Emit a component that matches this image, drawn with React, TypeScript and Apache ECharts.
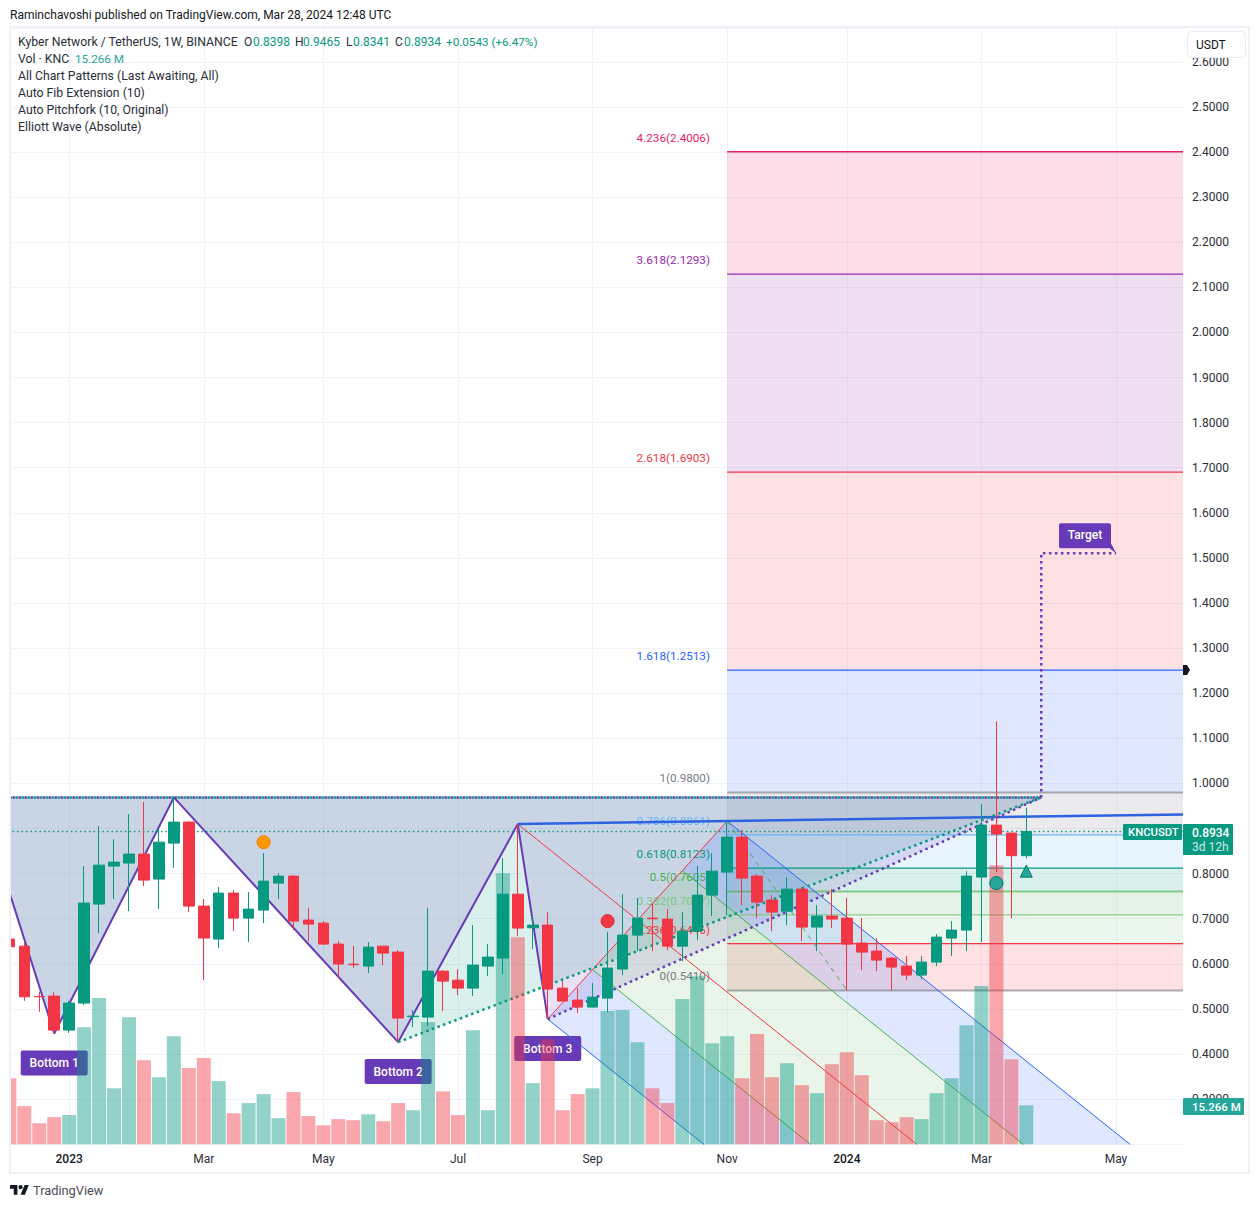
import React, { useEffect, useRef } from 'react';
import * as echarts from 'echarts';

const FONT = 'Roboto, sans-serif';
const GREEN = '#089981';
const RED = '#F23645';
const PURPLE = '#673ab7';

// weekly candles, oldest first: [open, close, low, high]
const candles = [
  [0.6548, 0.6378, 0.6378, 0.6548], [0.6392, 0.5269, 0.518, 0.647], [0.5276, 0.5269, 0.4936, 0.538],
  [0.5284, 0.453, 0.4441, 0.5372], [0.453, 0.5129, 0.447, 0.518], [0.5129, 0.7346, 0.5084, 0.8166],
  [0.7324, 0.8188, 0.6681, 0.9053], [0.8166, 0.8255, 0.7435, 0.8765], [0.8233, 0.8432, 0.7168, 0.9319],
  [0.8432, 0.7856, 0.7723, 0.9585], [0.7878, 0.8698, 0.7213, 0.8987], [0.8676, 0.9142, 0.8122, 0.9689],
  [0.9142, 0.7279, 0.7146, 0.9164], [0.7279, 0.657, 0.5639, 0.7435], [0.6548, 0.7568, 0.6348, 0.7701],
  [0.7568, 0.7013, 0.6725, 0.7634], [0.7013, 0.7213, 0.6481, 0.759], [0.7191, 0.7834, 0.6902, 0.8455],
  [0.7789, 0.7945, 0.7435, 0.8011], [0.7945, 0.6947, 0.6747, 0.7967], [0.6969, 0.688, 0.6503, 0.7235],
  [0.6902, 0.6437, 0.6415, 0.6947], [0.6437, 0.5993, 0.5683, 0.6503], [0.5993, 0.5979, 0.5905, 0.6392],
  [0.5949, 0.637, 0.5794, 0.6481], [0.6392, 0.6237, 0.5971, 0.6392], [0.6259, 0.4796, 0.4264, 0.6304],
  [0.4826, 0.484, 0.4596, 0.4973], [0.4818, 0.5838, 0.4619, 0.7235], [0.5838, 0.5616, 0.4951, 0.586],
  [0.5638, 0.5461, 0.5306, 0.5882], [0.5461, 0.5971, 0.5284, 0.6858], [0.5949, 0.6149, 0.5727, 0.6437],
  [0.6127, 0.7545, 0.5772, 0.8344], [0.7545, 0.6792, 0.6614, 0.9098], [0.6799, 0.6858, 0.6326, 0.708],
  [0.6858, 0.5439, 0.4774, 0.7146], [0.5461, 0.5173, 0.5173, 0.5616], [0.5195, 0.504, 0.4907, 0.5461],
  [0.504, 0.5262, 0.504, 0.5572], [0.5239, 0.5905, 0.4929, 0.6703], [0.5883, 0.6636, 0.5749, 0.7545],
  [0.6636, 0.7013, 0.6282, 0.7457], [0.7013, 0.6999, 0.6282, 0.7346], [0.6991, 0.6392, 0.6304, 0.7213],
  [0.6392, 0.6725, 0.606, 0.7146], [0.6725, 0.7523, 0.6526, 0.8166], [0.7523, 0.8055, 0.7058, 0.8455],
  [0.8033, 0.8809, 0.708, 0.9164], [0.8809, 0.79, 0.7301, 0.8964], [0.7945, 0.7368, 0.7013, 0.7989],
  [0.7412, 0.7146, 0.6725, 0.7523], [0.7168, 0.7656, 0.6858, 0.7922], [0.7656, 0.6814, 0.6503, 0.7701],
  [0.6814, 0.7058, 0.6282, 0.7301], [0.7058, 0.6991, 0.6792, 0.7656], [0.7013, 0.6437, 0.5417, 0.7457],
  [0.6459, 0.6259, 0.586, 0.7013], [0.6282, 0.6082, 0.5838, 0.657], [0.6126, 0.5927, 0.5417, 0.6149],
  [0.5949, 0.575, 0.5639, 0.6171], [0.575, 0.6038, 0.5661, 0.6171], [0.6038, 0.6592, 0.5949, 0.6659],
  [0.657, 0.6747, 0.6171, 0.6947], [0.6747, 0.7945, 0.6282, 0.8055], [0.7923, 0.9075, 0.6481, 0.9541],
  [0.9075, 0.8876, 0.8033, 1.1381], [0.8898, 0.8398, 0.7013, 0.8898], [0.8398, 0.8934, 0.8341, 0.9465],
];

// volume in millions, same order as the candles
const volumes = [
  25.8, 14.9, 8.2, 10.6, 11.4, 45.8, 57.2, 21.9, 49.7, 32.9, 26.2, 42.3, 29.8, 33.7, 24.7, 12.1, 16.1,
  19.6, 10.2, 20.4, 11.0, 7.4, 9.8, 9.4, 11.7, 9.0, 16.1, 13.3, 47.8, 20.7, 11.4, 44.6, 13.3, 106.1,
  81.0, 23.9, 41.1, 13.3, 19.6, 21.9, 52.1, 52.5, 39.9, 21.9, 16.1, 56.8, 65.8, 39.5, 42.3, 25.8, 43.1,
  26.2, 31.7, 23.1, 20.0, 31.3, 36.0, 27.0, 9.4, 8.6, 10.6, 9.8, 20.0, 25.8, 46.6, 61.9, 109.2, 33.3, 15.266,
];

const timeTicks = [4, 13, 21, 30, 39, 48, 56, 65, 74];
const timeLabels = ['2023', 'Mar', 'May', 'Jul', 'Sep', 'Nov', '2024', 'Mar', 'May'];

const X_MIN = 0.0435;
const X_MAX = 78.48;

// auto fib extension
const fibLevels = ['0', '0.236', '0.382', '0.5', '0.618', '0.786', '1', '1.618', '2.618', '3.618', '4.236'];
const fibPrices = [0.541, 0.6446, 0.7087, 0.7605, 0.8123, 0.8861, 0.98, 1.2513, 1.6903, 2.1293, 2.4006];
const fibColors = ['#787b86', '#f23645', '#81c784', '#4caf50', '#089981', '#64b5f6', '#787b86', '#2962ff', '#f23645', '#9c27b0', '#e91e63'];
const fibFillRgb = ['242,54,69', '129,199,132', '76,175,80', '8,153,129', '100,181,246', '120,123,134', '41,98,255', '242,54,69', '156,39,176', '233,30,99'];
const fibWidths = [2, 1.3, 1.3, 2, 1.3, 1.3, 2, 1.3, 1.3, 1.3, 1.3];
const fibOpacity = [0.6, 1, 0.9, 0.6, 1, 1, 0.6, 1, 1, 1, 1];
const FIB_START = 48;

// chart pattern pivots [week, price]
const zigzag = [[-1, 0.8636], [3, 0.4456], [11, 0.9689], [26, 0.4264], [34, 0.9098], [36, 0.4774]];
const patternTop = 0.9689;
const patternEnd = [69, 0.9689];
const crossing = [35.67, 0.5484];
const targetPath = [[69, 0.9689], [69, 1.5106], [74, 1.5106]];
const neckline = [[34, 0.9098], [78.48, 0.9312]];
const bottomLabels = [
  { week: 3, price: 0.4456, text: 'Bottom 1' },
  { week: 26, price: 0.4264, text: 'Bottom 2' },
  { week: 36, price: 0.4774, text: 'Bottom 3' },
];

// auto pitchfork, pivots and where each tine leaves the pane
const forkA = [34, 0.9098];
const forkB = [36, 0.4774];
const forkC = [48, 0.9164];
const forkMid = [42, 0.6969];
const forkQ1 = [39, 0.5872];
const forkQ2 = [45, 0.8067];
const forkEndB = [46.46, 0.199];
const forkEndQ1 = [53.6, 0.199];
const forkEndMid = [60.7, 0.199];
const forkEndQ2 = [67.83, 0.199];
const forkEndC = [74.96, 0.199];

const elliottLeg = [[48, 0.9164], [56, 0.5417]];

const zones = [
  ...fibFillRgb.map((rgb, i) => ({
    points: [[FIB_START, fibPrices[i]], [X_MAX, fibPrices[i]], [X_MAX, fibPrices[i + 1]], [FIB_START, fibPrices[i + 1]]],
    fill: `rgba(${rgb},0.15)`,
  })),
  {
    points: [[-1, patternTop], patternEnd, crossing, ...zigzag.slice(0, 5).reverse()],
    fill: 'rgba(120,150,190,0.4)',
  },
  { points: [zigzag[3], zigzag[4], crossing], fill: 'rgba(8,153,129,0.15)' },
  { points: [forkB, crossing, patternEnd], fill: 'rgba(103,58,183,0.15)' },
  { points: [forkB, forkQ1, forkEndQ1, forkEndB], fill: 'rgba(41,98,255,0.15)' },
  { points: [forkQ1, forkMid, forkEndMid, forkEndQ1], fill: 'rgba(76,175,80,0.13)' },
  { points: [forkMid, forkQ2, forkEndQ2, forkEndMid], fill: 'rgba(76,175,80,0.13)' },
  { points: [forkQ2, forkC, forkEndC, forkEndQ2], fill: 'rgba(41,98,255,0.15)' },
];

const DOTS: any = [2.5, 3.5];

const lines: any[] = [
  ...fibPrices.map((p, i) => ({
    points: [[FIB_START, p], [X_MAX, p]], color: fibColors[i], width: fibWidths[i], dash: 'solid', opacity: fibOpacity[i],
  })),
  { points: [forkA, forkEndMid], color: '#f23645', width: 1, dash: 'solid' },
  { points: [forkB, forkC], color: '#f23645', width: 1, dash: 'solid' },
  { points: [forkB, forkEndB], color: '#2962ff', width: 1, dash: 'solid' },
  { points: [forkC, forkEndC], color: '#2962ff', width: 1, dash: 'solid' },
  { points: [forkQ1, forkEndQ1], color: '#4caf50', width: 1, dash: 'solid' },
  { points: [forkQ2, forkEndQ2], color: '#4caf50', width: 1, dash: 'solid' },
  { points: elliottLeg, color: '#4caf50', width: 1, dash: [5, 5] },
  { points: zigzag, color: PURPLE, width: 2, dash: 'solid' },
  { points: neckline, color: '#2f62e0', width: 2.5, dash: 'solid' },
  { points: [[-1, patternTop], patternEnd], color: PURPLE, width: 2.5, dash: DOTS },
  { points: [forkB, patternEnd], color: PURPLE, width: 2.5, dash: DOTS },
  { points: [[-1, patternTop], patternEnd], color: GREEN, width: 2.5, dash: DOTS, offset: 3 },
  { points: [zigzag[3], patternEnd], color: GREEN, width: 2.5, dash: DOTS },
  { points: targetPath, color: PURPLE, width: 2.5, dash: DOTS },
  { points: [[-1, 0.8934], [X_MAX, 0.8934]], color: GREEN, width: 1.5, dash: [1.5, 3] },
];

const markers = [
  { value: [17, 0.8698], color: '#ff9800', border: '#f57c00', symbol: 'circle', size: 13 },
  { value: [40, 0.6947], color: '#f23645', border: '#d32f2f', symbol: 'circle', size: 13 },
  { value: [66, 0.7789], color: '#26a69a', border: '#00796b', symbol: 'circle', size: 13 },
  { value: [68, 0.8055], color: '#26a69a', border: '#00796b', symbol: 'triangle', size: 12 },
];

const legendLines = ['All Chart Patterns (Last Awaiting, All)', 'Auto Fib Extension (10)', 'Auto Pitchfork (10, Original)', 'Elliott Wave (Absolute)'];

echarts.graphic.registerShape(
  'tvlogo',
  echarts.graphic.extendPath('M14 22H7V11H0V4h14v18zM28 22h-8l7.5-18h8L28 22zM20 4a4 4 0 1 1 0 8a4 4 0 1 1 0-8z', {})
);

function txt(text: string, x: number, y: number, fill: string, extra: any = {}) {
  return {
    type: 'text', x, y, z: 20, silent: true,
    style: { text, fill, font: `12px ${FONT}`, align: 'left', verticalAlign: 'middle', ...extra },
  };
}

function tag(x: number, y: number, width: number, height: number, fill: string) {
  return { type: 'rect', z: 19, silent: true, shape: { x, y, width, height, r: 1 }, style: { fill } };
}

function App() {
  const chartRef = useRef<HTMLDivElement>(null);

  useEffect(() => {
    if (!chartRef.current) return;
    const chart = echarts.init(chartRef.current, undefined, { renderer: 'svg' });
    const LEGEND_FONT = { font: `12.25px ${FONT}` };

    const option: any = {
      animation: false,
      backgroundColor: '#ffffff',
      grid: { left: 10, top: 28, width: 1173, height: 1116.2, containLabel: false },
      xAxis: {
        type: 'value',
        min: X_MIN,
        max: X_MAX,
        axisLine: { show: false },
        axisTick: { show: false, customValues: timeTicks },
        splitLine: { show: true, lineStyle: { color: '#f0f3fa', width: 1 } },
        axisLabel: {
          customValues: timeTicks,
          margin: 9,
          color: '#2a2e39',
          fontFamily: FONT,
          fontSize: 12,
          formatter: (v: number) => {
            const s = timeLabels[timeTicks.indexOf(v)];
            return s && s.length === 4 ? `{b|${s}}` : s;
          },
          rich: { b: { fontWeight: 500, color: '#131722', fontFamily: FONT, fontSize: 12 } },
        },
      },
      yAxis: [
        {
          type: 'value',
          position: 'right',
          min: 0.2,
          max: 2.675,
          interval: 0.1,
          axisLine: { show: false },
          axisTick: { show: false },
          splitLine: { show: true, lineStyle: { color: '#f0f3fa', width: 1 } },
          axisLabel: {
            margin: 9,
            padding: [2, 0, 0, 0],
            color: '#2a2e39',
            fontFamily: FONT,
            fontSize: 12,
            showMinLabel: false,
            showMaxLabel: false,
            formatter: (v: number) => v.toFixed(4),
          },
        },
        { type: 'value', min: 0, max: 437, show: false, splitLine: { show: false } },
      ],
      series: [
        {
          type: 'custom',
          z: 1,
          silent: true,
          clip: true,
          data: zones.map((_, i) => i),
          renderItem: (params: any, api: any) => ({
            type: 'polygon',
            shape: { points: zones[params.dataIndex].points.map((p) => api.coord(p)) },
            style: { fill: zones[params.dataIndex].fill },
          }),
        },
        ...lines.map((l) => ({
          type: 'line',
          z: 1,
          silent: true,
          symbol: 'none',
          clip: true,
          data: l.points,
          lineStyle: { color: l.color, width: l.width, type: l.dash, dashOffset: l.offset || 0, opacity: l.opacity ?? 1 },
        })),
        {
          type: 'custom',
          z: 1,
          silent: true,
          clip: true,
          data: fibLevels.map((_, i) => i),
          renderItem: (params: any, api: any) => {
            const i = params.dataIndex;
            const pt = api.coord([46.85, fibPrices[i]]);
            return {
              type: 'text',
              x: pt[0],
              y: pt[1] - 14,
              style: {
                text: `${fibLevels[i]}(${fibPrices[i].toFixed(4)})`,
                fill: fibColors[i],
                font: `11.7px ${FONT}`,
                align: 'right',
                verticalAlign: 'middle',
              },
            };
          },
        },
        {
          type: 'custom',
          z: 1,
          silent: true,
          clip: false,
          data: bottomLabels.map((_, i) => i),
          renderItem: (params: any, api: any) => {
            const b = bottomLabels[params.dataIndex];
            const pt = api.coord([b.week, b.price]);
            return {
              type: 'group',
              children: [
                { type: 'rect', shape: { x: pt[0] - 33.5, y: pt[1] + 17, width: 67, height: 25, r: 2 }, style: { fill: PURPLE } },
                {
                  type: 'text', x: pt[0], y: pt[1] + 29.5,
                  style: { text: b.text, fill: '#ffffff', font: `500 12px ${FONT}`, align: 'center', verticalAlign: 'middle' },
                },
              ],
            };
          },
        },
        {
          type: 'custom',
          z: 1,
          silent: true,
          clip: false,
          data: [0],
          renderItem: (_: any, api: any) => {
            const pt = api.coord(targetPath[2]);
            return {
              type: 'group',
              children: [
                { type: 'rect', shape: { x: pt[0] - 57, y: pt[1] - 30, width: 52, height: 25, r: 2 }, style: { fill: PURPLE } },
                {
                  type: 'polygon',
                  shape: { points: [[pt[0] - 9, pt[1] - 7], [pt[0] - 5, pt[1] - 10], [pt[0], pt[1]]] },
                  style: { fill: PURPLE },
                },
                {
                  type: 'text', x: pt[0] - 31, y: pt[1] - 18.5,
                  style: { text: 'Target', fill: '#ffffff', font: `500 12px ${FONT}`, align: 'center', verticalAlign: 'middle' },
                },
              ],
            };
          },
        },
        {
          type: 'bar',
          z: 2,
          silent: true,
          yAxisIndex: 1,
          barWidth: 14,
          data: volumes.map((v, i) => ({
            value: [i, v],
            itemStyle: { color: candles[i][1] >= candles[i][0] ? GREEN : RED, opacity: 0.44 },
          })),
        },
        {
          type: 'candlestick',
          z: 3,
          silent: true,
          barWidth: 11,
          encode: { x: 0, y: [1, 2, 3, 4] },
          data: candles.map((c, i) => [i, c[0], c[1], c[2], c[3]]),
          itemStyle: { color: GREEN, color0: RED, borderColor: GREEN, borderColor0: RED, borderWidth: 1 },
        },
        {
          type: 'scatter',
          z: 4,
          silent: true,
          data: markers.map((m) => ({
            value: m.value,
            symbol: m.symbol,
            symbolSize: m.size,
            itemStyle: { color: m.color, borderColor: m.border, borderWidth: 1, opacity: 1 },
          })),
        },
      ],
      graphic: [
        // bars and candles spill past the pane's left edge
        { type: 'rect', z: 17, silent: true, shape: { x: 0, y: 20, width: 10, height: 1165 }, style: { fill: '#ffffff' } },
        {
          type: 'rect', z: 18, silent: true,
          shape: { x: 10, y: 27, width: 1239, height: 1146 },
          style: { fill: 'none', stroke: '#eff1f6', lineWidth: 2 },
        },
        txt('Raminchavoshi published on TradingView.com, Mar 28, 2024 12:48 UTC', 10, 15, '#131722'),
        txt('Kyber Network / TetherUS, 1W, BINANCE', 18, 42, '#2a2e39', LEGEND_FONT),
        txt('O', 244, 42, '#2a2e39'), txt('0.8398', 253, 42, GREEN),
        txt('H', 295, 42, '#2a2e39'), txt('0.9465', 303, 42, GREEN),
        txt('L', 346, 42, '#2a2e39'), txt('0.8341', 353, 42, GREEN),
        txt('C', 395, 42, '#2a2e39'), txt('0.8934', 404, 42, GREEN),
        txt('+0.0543 (+6.47%)', 446, 42, GREEN, { font: `11.7px ${FONT}` }),
        txt('Vol · KNC', 18, 59, '#2a2e39', LEGEND_FONT), txt('15.266 M', 75, 59, '#26a69a', { font: `11.7px ${FONT}` }),
        ...legendLines.map((s, i) => txt(s, 18, 76 + i * 17, '#2a2e39', LEGEND_FONT)),
        {
          type: 'rect', z: 19, silent: true,
          shape: { x: 1187.5, y: 31.5, width: 58, height: 26, r: 4 },
          style: { fill: '#ffffff', stroke: '#e9ecf2', lineWidth: 1 },
        },
        txt('USDT', 1196, 44.5, '#131722'),
        tag(1123, 824, 59, 16, GREEN),
        txt('KNCUSDT', 1128, 832.5, '#ffffff', { font: `500 11.3px ${FONT}` }),
        tag(1183, 824, 50, 31, GREEN),
        txt('0.8934', 1192, 832.5, '#ffffff', { font: `500 12px ${FONT}` }),
        txt('3d 12h', 1192, 847, '#cfe9e4'),
        tag(1183, 1098, 61, 17, '#26a69a'),
        txt('15.266 M', 1192, 1106.5, '#ffffff', { font: `500 11.5px ${FONT}` }),
        {
          type: 'polygon', z: 19, silent: true,
          shape: { points: [[1183, 665], [1187, 665], [1190, 670], [1187, 675], [1183, 675]] },
          style: { fill: '#131722' },
        },
        { type: 'tvlogo', x: 10, y: 1183, scaleX: 0.53, scaleY: 0.53, silent: true, style: { fill: '#131722' } },
        txt('TradingView', 33, 1190.5, '#4a4e59', { font: `12.8px ${FONT}` }),
      ],
    };

    chart.setOption(option);
    return () => chart.dispose();
  }, []);

  return <div ref={chartRef} style={{ position: 'absolute', left: 0, top: 0, width: 1259, height: 1208 }} />;
}

export default App;
